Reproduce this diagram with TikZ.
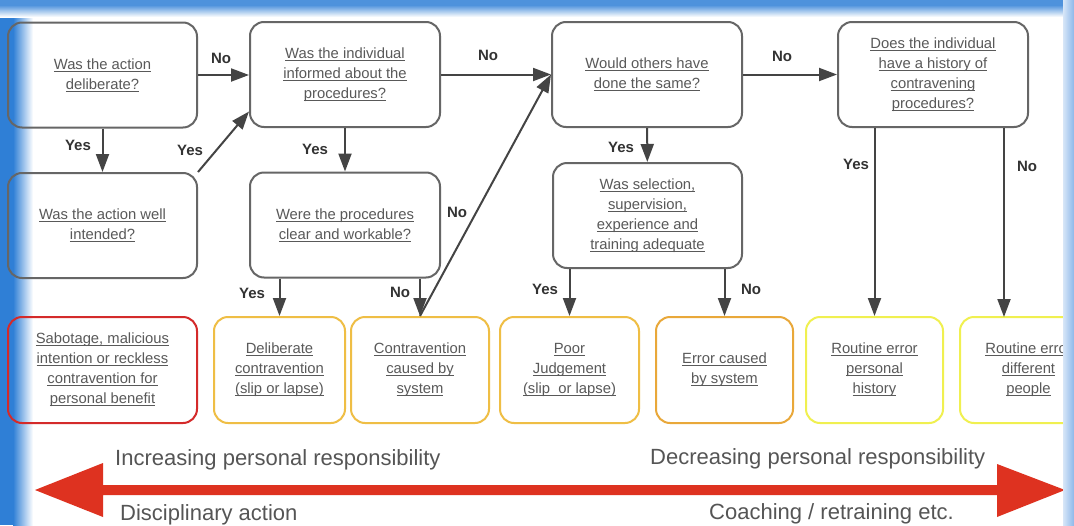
\documentclass[tikz,border=0pt]{standalone}
\usepackage{fontspec}
\setmainfont{Liberation Sans}
\usetikzlibrary{arrows.meta}

\newcommand{\uln}[1]{\setbox0\hbox{#1}\rlap{\rule[-2.2pt]{\wd0}{0.7pt}}\box0}

\definecolor{boxline}{HTML}{666666}
\definecolor{arrowgray}{HTML}{444444}
\definecolor{txtgray}{HTML}{595959}
\definecolor{lblgray}{HTML}{333333}
\definecolor{scalegray}{HTML}{555555}
\definecolor{sabred}{HTML}{D42A2A}
\definecolor{goldline}{HTML}{EFBE45}
\definecolor{orangeline}{HTML}{E9A83A}
\definecolor{yellowline}{HTML}{F0F050}
\definecolor{bigred}{HTML}{DE3220}
\definecolor{frameblue}{HTML}{2F7FD6}
\definecolor{framelight}{HTML}{8DB8EA}

\tikzset{
  qbox/.style = {draw = boxline, line width = 2pt, rounded corners = 14pt,
    minimum width = 189pt, minimum height = 105pt,
    align = center, text = txtgray, font = \fontsize{14.8}{20}\selectfont},
  endbox/.style = {qbox, minimum height = 106pt},
  lbl/.style = {text = lblgray, font = \fontsize{15}{18}\selectfont\bfseries},
  arr/.style = {draw = arrowgray, line width = 2pt,
    -{Triangle[length = 18pt, width = 13pt]}},
  scaletxt/.style = {text = scalegray, font = \fontsize{22}{26}\selectfont,
    anchor = base west, inner sep = 0pt}
}

\begin{document}
\begin{tikzpicture}[x = 1pt, y = -1pt]
    \useasboundingbox (0, 0) rectangle (1074, 525);
    \clip (0, 0) rectangle (1074, 525);
    \fill[white] (0, 0) rectangle (1074, 525);

    % blue frame
    \fill[frameblue] (0, 0) rectangle (13, 525);
    \shade[left color = frameblue, right color = white] (13, 0) rectangle (33, 525);
    \fill[frameblue!85] (0, 0) rectangle (1074, 5);
    \shade[top color = frameblue!85, bottom color = white] (0, 5) rectangle (1074, 17);

    % questions
    \node[qbox] (deliberate) at (102.5, 75)
      {\uln{Was the action}\\\uln{deliberate?}};
    \node[qbox] (intended) at (102.5, 225.5)
      {\uln{Was the action well}\\\uln{intended?}};
    \node[qbox, minimum width = 190pt] (informed) at (345, 74.5)
      {\uln{Was the individual}\\\uln{informed about the}\\\uln{procedures?}};
    \node[qbox, minimum width = 190pt] (workable) at (345, 225)
      {\uln{Were the procedures}\\\uln{clear and workable?}};
    \node[qbox, minimum width = 190pt] (others) at (647, 74.5)
      {\uln{Would others have}\\\uln{done the same?}};
    \node[qbox] (selection) at (647.5, 215.5)
      {\uln{Was selection,}\\\uln{supervision,}\\\uln{experience and}\\\uln{training adequate}};
    \node[qbox, minimum width = 190pt] (history) at (933, 74.5)
      {\uln{Does the individual}\\\uln{have a history of}\\\uln{contravening}\\\uln{procedures?}};

    % outcomes
    \node[endbox, draw = sabred] (sabotage) at (102.5, 370)
      {\uln{Sabotage, malicious}\\\uln{intention or reckless}\\\uln{contravention for}\\\uln{personal benefit}};
    \node[endbox, draw = goldline, minimum width = 131pt] (delibContra) at (279.5, 370)
      {\uln{Deliberate}\\\uln{contravention}\\\uln{(slip or lapse)}};
    \node[endbox, draw = goldline, minimum width = 138pt] (contraSystem) at (420, 370)
      {\uln{Contravention}\\\uln{caused by}\\\uln{system}};
    \node[endbox, draw = goldline, minimum width = 139pt] (poorJudge) at (569.5, 370)
      {\uln{Poor}\\\uln{Judgement}\\\uln{(slip~ or lapse)}};
    \node[endbox, draw = orangeline, minimum width = 137pt] (errorSystem) at (724.5, 370)
      {\uln{Error caused}\\\uln{by system}};
    \node[endbox, draw = yellowline, minimum width = 137pt] (routineHist) at (874.5, 370)
      {\uln{Routine error}\\\uln{personal}\\\uln{history}};
    \node[endbox, draw = yellowline, minimum width = 137pt] (routineDiff) at (1028.5, 370)
      {\uln{Routine error}\\\uln{different}\\\uln{people}};
    \coordinate (diffTop) at (1004, 317);

    % connectors
    \draw[arr] (deliberate.east) -- (deliberate.east -| informed.west);
    \draw[arr] (deliberate) -- (intended);
    \draw[arr] (intended.north east) -- ([yshift = -37pt]informed.west);
    \draw[arr] (informed.east) -- (informed.east -| others.west);
    \draw[arr] (informed) -- (workable);
    \draw[arr] (workable.south -| delibContra.north) -- (delibContra.north);
    \draw[arr] (workable.south -| contraSystem.north) -- (contraSystem.north);
    \draw[arr] (contraSystem.north) -- (others.west);
    \draw[arr] (others.east) -- (others.east -| history.west);
    \draw[arr] (others) -- (selection);
    \draw[arr] (selection.south -| poorJudge.north) -- (poorJudge.north);
    \draw[arr] (selection.south -| errorSystem.north) -- (errorSystem.north);
    \draw[arr] (history.south -| routineHist.north) -- (routineHist.north);
    \draw[arr] (history.south -| diffTop) -- (diffTop);

    \node[lbl] (noAC) at (221, 58) {No};
    \node[lbl] (yesAB) at (78, 145) {Yes};
    \node[lbl] (yesBC) at (190, 150) {Yes};
    \node[lbl] (noCE) at (488, 55) {No};
    \node[lbl] (yesCD) at (315, 149) {Yes};
    \node[lbl] (noDE) at (457, 212) {No};
    \node[lbl] (yesDA) at (252, 293) {Yes};
    \node[lbl] (noDB) at (400, 292) {No};
    \node[lbl] (noEG) at (782, 56) {No};
    \node[lbl] (yesEF) at (621, 147) {Yes};
    \node[lbl] (yesFA) at (545, 289) {Yes};
    \node[lbl] (noFB) at (751, 289) {No};
    \node[lbl] (yesGA) at (856, 164) {Yes};
    \node[lbl] (noGB) at (1027, 166) {No};

    % responsibility scale
    \fill[bigred] (35, 490) -- (103, 463) -- (103, 485) -- (997, 485)
      -- (997, 464) -- (1065, 490) -- (997, 517) -- (997, 495)
      -- (103, 495) -- (103, 517) -- cycle;
    \node[scaletxt] (incResp) at (115, 465) {Increasing personal responsibility};
    \node[scaletxt] (discAct) at (120, 520) {Disciplinary action};
    \node[scaletxt] (decResp) at (650, 464) {Decreasing personal responsibility};
    \node[scaletxt] (coach) at (709, 519) {Coaching / retraining etc.};

    % right edge
    \shade[left color = framelight!35, right color = framelight] (1063, 0) rectangle (1074, 525);

  \end{tikzpicture}
\end{document}
